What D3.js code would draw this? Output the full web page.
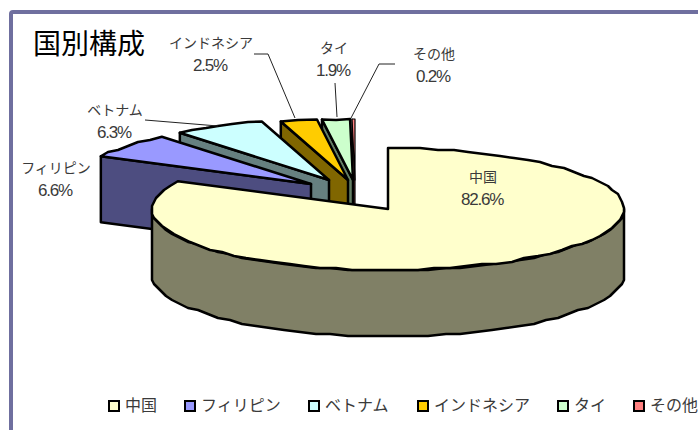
<!DOCTYPE html>
<html>
<head>
<meta charset="utf-8">
<title>国別構成</title>
<script src="https://d3js.org/d3.v7.min.js"></script>
<style>
  html, body { margin: 0; background: #fff; overflow: hidden; }
  svg { display: block; }
  text { font-family: "Noto Sans CJK JP", "Noto Sans", sans-serif; fill: #3a3a3a; }
  .pct { font-family: "Liberation Sans", sans-serif; letter-spacing: -1.2px; font-size: 17px; }
</style>
</head>
<body>
<script>
var categories = ['中国', 'フィリピン', 'ベトナム', 'インドネシア', 'タイ', 'その他'];
var shares = [82.6, 6.6, 6.3, 2.5, 1.9, 0.2];
var pctLabels = ['82.6%', '6.6%', '6.3%', '2.5%', '1.9%', '0.2%'];
var topColors = ['#FFFFCC', '#9999FF', '#CCFFFF', '#FFCC00', '#CCFFCC', '#FF8080'];
var sideColors = ['#808066', '#4D4D80', '#668080', '#806600', '#668066', '#804040'];

var width = 698, height = 430;
var cx = 388, cy = 209, rx = 236, ry = 61, depth = 66;

// how far each slice is pulled away from the pie, in pixels
var pull = [[0, 0], [-77, -25], [-59, -29], [-40, -29], [-35, -29], [-33, -29]];

var svg = d3.select('body').append('svg').attr('width', width).attr('height', height);

// frame, runs off the right and bottom of the picture
svg.append('rect')
  .attr('x', 11).attr('y', 12).attr('width', 760).attr('height', 500).attr('rx', 2)
  .attr('fill', '#fff').attr('stroke', '#6F6F9F').attr('stroke-width', 4);

svg.append('text').attr('x', 33).attr('y', 54)
  .style('font-size', '28px').style('fill', '#000').text('国別構成');

var x = d3.scaleLinear().domain([-1, 1]).range([cx - rx, cx + rx]);
var y = d3.scaleLinear().domain([-1, 1]).range([cy - ry, cy + ry]);

var slices = d3.pie().sort(null).value(function(d) { return d; })(shares);
var line = d3.line();

function pt(a, i) {
  return [x(Math.sin(a)) + pull[i][0], y(-Math.cos(a)) + pull[i][1]];
}

// rim sampled coarsely and snapped, the reference edge is jagged
function rim(a0, a1, i) {
  var n = Math.max(1, Math.round((a1 - a0) / 0.07));
  return d3.range(n + 1).map(function(k) {
    var p = pt(a0 + (a1 - a0) * k / n, i);
    if (k === 0 || k === n) return p;
    return [Math.round(p[0] / 2) * 2, Math.round(p[1] / 2) * 2];
  });
}

var pieG = svg.append('g')
  .attr('stroke', '#000').attr('stroke-width', 2.5).attr('stroke-linejoin', 'round');

// back slices first, each one hides the wall of the one before it
d3.range(slices.length - 1, 0, -1).forEach(function(i) {
  var s = slices[i];
  var start = pt(s.startAngle, i);
  var apex = [x(0) + pull[i][0], y(0) + pull[i][1]];
  // the smallest slice would vanish under a full width outline
  var sw = i === slices.length - 1 ? 1.2 : 2.5;
  pieG.append('path')
    .attr('fill', sideColors[i]).attr('stroke-width', sw)
    .attr('d', line([start, apex, [apex[0], apex[1] + depth], [start[0], start[1] + depth]]) + 'Z');
  pieG.append('path')
    .attr('fill', topColors[i]).attr('stroke-width', sw)
    .attr('d', line([apex].concat(rim(s.startAngle, s.endAngle, i))) + 'Z');
});

// the big slice goes on top
var main = slices[0];
var frontEdge = rim(Math.PI / 2, 3 * Math.PI / 2, 0);
pieG.append('path')
  .attr('fill', sideColors[0])
  .attr('d', line(frontEdge.concat(frontEdge.slice().reverse().map(function(p) {
    return [p[0], p[1] + depth];
  }))) + 'Z');
pieG.append('path')
  .attr('fill', topColors[0])
  .attr('d', line([[x(0), y(0)]].concat(rim(main.startAngle, main.endAngle, 0))) + 'Z');

// data labels
var labelPos = [[483, 177], [56, 168], [115, 110], [211, 43], [334, 48], [434, 54]];
var labels = svg.append('g').attr('text-anchor', 'middle').style('font-size', '14px');
categories.forEach(function(c, i) {
  labels.append('text').attr('x', labelPos[i][0]).attr('y', labelPos[i][1] + 5).text(c);
  labels.append('text').attr('class', 'pct').attr('x', labelPos[i][0] - 1).attr('y', labelPos[i][1] + 28)
    .text(pctLabels[i]);
});

// leader lines
var leaders = [
  [[145, 120], [218, 126]],
  [[254, 54], [268, 54], [295, 118]],
  [[335, 83], [337, 117]],
  [[395, 64], [379, 64], [351, 118]]
];
svg.append('g').selectAll('path').data(leaders).enter().append('path')
  .attr('d', function(d) { return line(d); })
  .attr('fill', 'none').attr('stroke', '#222').attr('stroke-width', 1);

// legend
var legendX = [109, 185, 309, 418, 558, 634];
var legend = svg.append('g').selectAll('g').data(categories).enter().append('g')
  .attr('transform', function(d, i) { return 'translate(' + legendX[i] + ',401)'; });
legend.append('rect')
  .attr('width', 10).attr('height', 10)
  .attr('fill', function(d, i) { return topColors[i]; })
  .attr('stroke', '#000').attr('stroke-width', 2);
legend.append('text').attr('x', 16).attr('y', 10).style('font-size', '16px').text(function(d) { return d; });
</script>
</body>
</html>
